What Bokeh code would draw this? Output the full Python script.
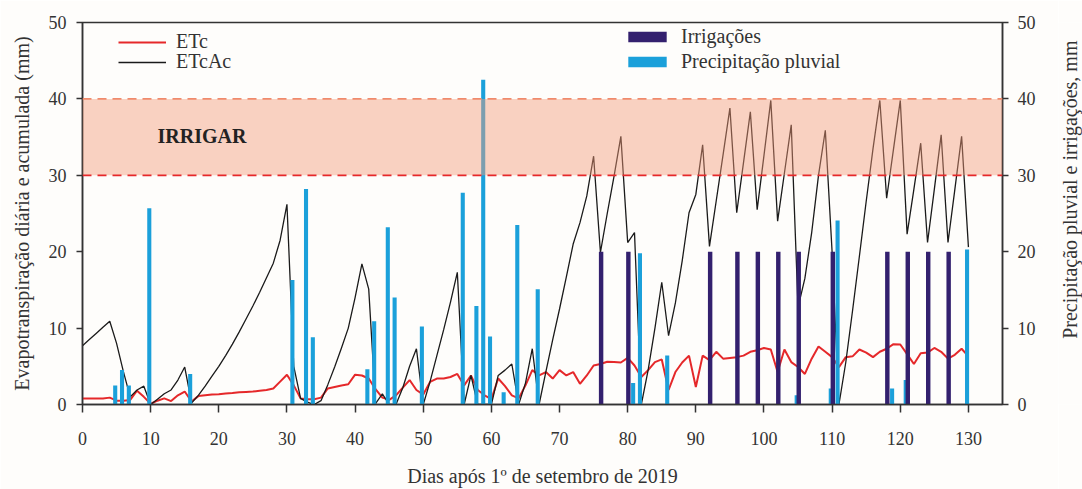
import math
from bokeh.plotting import figure
from bokeh.layouts import row
from bokeh.core.properties import value
from bokeh.models import (ColumnDataSource, Range1d, LinearAxis, FixedTicker, Span,
                          BoxAnnotation, Label, Legend, LegendItem)
from bokeh.transform import dodge
from bokeh.embed import file_html
from bokeh.resources import INLINE

# ---------------- data ----------------
days = list(range(0, 131))

etc = [0.8, 0.8, 0.8, 0.8, 0.9, 0.5, 0.5, 0.6, 1.8, 1.0,
       0.1, 0.5, 0.8, 0.45, 1.2, 1.7, 0.4, 1.1, 1.2, 1.3,
       1.35, 1.45, 1.5, 1.6, 1.65, 1.7, 1.8, 1.9, 2.1, 3.0,
       3.9, 2.5, 0.8, 0.7, 0.7, 0.9, 2.1, 2.3, 2.5, 2.65,
       3.9, 3.8, 3.4, 2.0, 0.9, 0.6, 1.2, 2.2, 3.2, 1.9,
       1.3, 2.95, 3.4, 3.4, 3.6, 4.0, 2.5, 3.8, 1.9, 1.2,
       0.7, 3.4, 2.4, 1.2, 0.8, 2.5, 4.5, 3.8, 4.25, 3.4,
       4.5, 3.8, 4.25, 2.7, 3.8, 5.1, 5.3, 5.6, 5.55, 5.5,
       6.1, 5.1, 3.6, 4.5, 5.55, 5.9, 1.9, 4.25, 5.5, 6.4,
       2.3, 6.4, 5.8, 6.9, 6.0, 6.1, 6.2, 6.4, 6.9, 7.1,
       7.4, 7.2, 4.25, 7.2, 5.55, 4.9, 4.0, 6.0, 7.6, 6.9,
       6.2, 4.9, 6.2, 6.3, 7.2, 6.8, 6.2, 6.9, 7.3, 7.9,
       7.85, 6.6, 5.3, 6.7, 6.8, 7.4, 6.9, 6.0, 6.5, 7.3,
       6.3]

etcac = [7.7, 8.5, 9.3, 10.1, 10.9, 8.0, 4.3, 1.0, 1.9, 2.4,
         0.0, 0.7, 1.4, 1.9, 3.2, 4.9, 0.2, 1.2, 2.4, 3.7,
         5.0, 6.4, 7.9, 9.5, 11.2, 12.9, 14.7, 16.6, 18.5, 21.5,
         26.2, 5.0, 0.8, 0.3, 0.0, 0.5, 2.6, 4.9, 7.4, 10.0,
         14.0, 18.4, 15.1, 0.1, 1.4, 0.0, 0.0, 2.2, 5.0, 7.3,
         0.0, 3.0, 6.4, 9.8, 13.4, 17.3, 0.0, 3.8, 0.0, 0.0,
         0.0, 3.8, 4.5, 5.3, 0.0, 2.8, 7.3, 0.0, 4.3, 8.5,
         12.5, 16.7, 21.0, 23.8, 27.3, 32.5, 19.9, 25.0, 29.9, 35.1,
         21.2, 22.5, 0.0, 4.5, 10.0, 16.0, 9.0, 13.3, 18.8, 25.1,
         27.5, 34.0, 20.7, 26.7, 32.7, 38.8, 25.1, 31.7, 38.3, 25.5,
         32.6, 39.8, 24.0, 30.3, 36.6, 12.7, 16.5, 22.5, 30.0, 35.9,
         19.9, 0.0, 5.5, 12.3, 19.4, 26.6, 33.5, 39.8, 27.0, 33.4,
         39.8, 22.3, 28.2, 34.2, 21.2, 28.2, 35.3, 21.2, 28.1, 35.1,
         20.6]

rain_days = [5, 6, 7, 10, 16, 31, 33, 34, 42, 43, 45, 46, 50, 56, 58, 59, 60, 62,
             64, 67, 81, 82, 86, 105, 110, 111, 119, 121, 130]
rain_mm = [2.5, 4.5, 2.5, 25.7, 4.0, 16.3, 28.2, 8.8, 4.6, 10.9, 23.2, 14.0, 10.2,
           27.7, 12.9, 42.5, 8.9, 1.6, 23.5, 15.1, 2.8, 19.8, 6.4, 1.2, 2.1, 24.1,
           2.1, 3.2, 20.3]

irr_days = [76, 80, 92, 96, 99, 102, 105, 110, 118, 121, 124, 127]
irr_mm = [20, 20, 20, 20, 20, 20, 20, 20, 20, 20, 20, 20]

x_ticks = [0, 10, 20, 30, 40, 50, 60, 70, 80, 90, 100, 110, 120, 130]
y_ticks = [0, 10, 20, 30, 40, 50]

threshold_low = 30
threshold_high = 40

right_title = "Precipitação pluvial e irrigações, mm"

# ---------------- styling ----------------
FONT = "Liberation Serif"
TXT = "#333333"
AX = "#333333"
RED = "#E5282A"
BLUE = "#1BA0DA"
PURPLE = "#33206E"
BG = "#FEFDFB"

line_src = ColumnDataSource(dict(day=days, etc=etc, etcac=etcac))
rain_src = ColumnDataSource(dict(day=rain_days, mm=rain_mm))
irr_src = ColumnDataSource(dict(day=irr_days, mm=irr_mm))

p = figure(width=1058, height=489, x_range=Range1d(0, 135), y_range=Range1d(0, 50),
           output_backend="svg", toolbar_location=None,
           min_border_left=82, min_border_right=56, min_border_top=22, min_border_bottom=83)
p.extra_y_ranges = {"right": Range1d(0, 50)}
p.background_fill_color = BG
p.border_fill_color = BG
p.outline_line_color = AX
p.outline_line_width = 1.5
p.xgrid.visible = False
p.ygrid.visible = False

r_etc = p.line("day", "etc", source=line_src, line_color=RED, line_width=2)
r_acc = p.line("day", "etcac", source=line_src, line_color="#1A1A1A", line_width=1.3)

r_rain = p.vbar(x=dodge("day", -0.2, range=p.x_range), top="mm", width=0.6, source=rain_src,
                fill_color=BLUE, line_color=None)
r_irr = p.vbar(x=dodge("day", 0.1, range=p.x_range), top="mm", width=0.65, source=irr_src,
               fill_color=PURPLE, line_color=None)

band = BoxAnnotation(bottom=threshold_low, top=threshold_high, fill_color="#F39C7A",
                     fill_alpha=0.45, line_color=None)
p.add_layout(band)
p.add_layout(Span(location=threshold_high, dimension="width", line_color="#F08A6C",
                  line_width=1.8, line_dash="9 6"))
p.add_layout(Span(location=threshold_low, dimension="width", line_color=RED,
                  line_width=1.8, line_dash="9 6"))

p.add_layout(Label(x=11, y=35.2, text="IRRIGAR", text_font=FONT, text_font_size="20px",
                   text_font_style="bold", text_color="#222222", text_baseline="middle"))


def style_axis(ax, tick_out, standoff, label_standoff):
    ax.major_label_text_font = FONT
    ax.major_label_text_font_size = "18px"
    ax.major_label_text_color = TXT
    ax.axis_label_text_font = FONT
    ax.axis_label_text_font_size = "20px"
    ax.axis_label_text_font_style = "normal"
    ax.axis_label_text_color = TXT
    ax.axis_line_color = AX
    ax.axis_line_width = 1.5
    ax.major_tick_line_color = AX
    ax.major_tick_line_width = 1.5
    ax.major_tick_in = 0
    ax.major_tick_out = tick_out
    ax.major_label_standoff = standoff
    ax.axis_label_standoff = label_standoff
    ax.minor_tick_line_color = None


p.xaxis[0].ticker = FixedTicker(ticks=x_ticks)
p.xaxis[0].axis_label = "Dias após 1º de setembro de 2019"
style_axis(p.xaxis[0], 8, 19, 17)

p.yaxis[0].ticker = FixedTicker(ticks=y_ticks)
p.yaxis[0].axis_label = "Evapotranspiração diária e acumulada (mm)"
style_axis(p.yaxis[0], 6, 10, 13)

ax_r = LinearAxis(y_range_name="right", ticker=FixedTicker(ticks=y_ticks))
style_axis(ax_r, 6, 9, 0)
p.add_layout(ax_r, "right")


def one_item_legend(label, renderer, x, y, gh):
    return Legend(items=[LegendItem(label=label, renderers=[renderer])],
                  location=(x, y), orientation="vertical",
                  glyph_width=48, glyph_height=gh, label_height=20, spacing=0,
                  label_standoff=10, padding=0, margin=0,
                  border_line_color=None, background_fill_alpha=0,
                  label_text_font=FONT, label_text_font_size="20px", label_text_color=TXT)


p.add_layout(one_item_legend("ETc", r_etc, 36, 351, 20), "center")
p.add_layout(one_item_legend("ETcAc", r_acc, 36, 331, 20), "center")
p.add_layout(one_item_legend("Irrigações", r_irr, 541, 356, 13), "center")
p.add_layout(one_item_legend("Precipitação pluvial", r_rain, 541, 331, 13), "center")

# narrow strip on the right carrying the right-hand axis title (reads bottom-to-top)
p2 = figure(width=24, height=489, x_range=Range1d(0, 24), y_range=Range1d(0, 489),
            output_backend="svg", toolbar_location=None, x_axis_type=None, y_axis_type=None,
            min_border=0, min_border_left=0, min_border_right=0,
            min_border_top=0, min_border_bottom=0)
p2.background_fill_color = BG
p2.border_fill_color = BG
p2.outline_line_color = None
p2.xgrid.visible = False
p2.ygrid.visible = False
p2.text(x=[11], y=[275], text=[right_title], angle=math.pi / 2,
        text_font=value(FONT), text_font_size="20px", text_color=TXT,
        text_align="center", text_baseline="middle")

page = row(p, p2)
open("out.html", "w").write(file_html(page, INLINE))
